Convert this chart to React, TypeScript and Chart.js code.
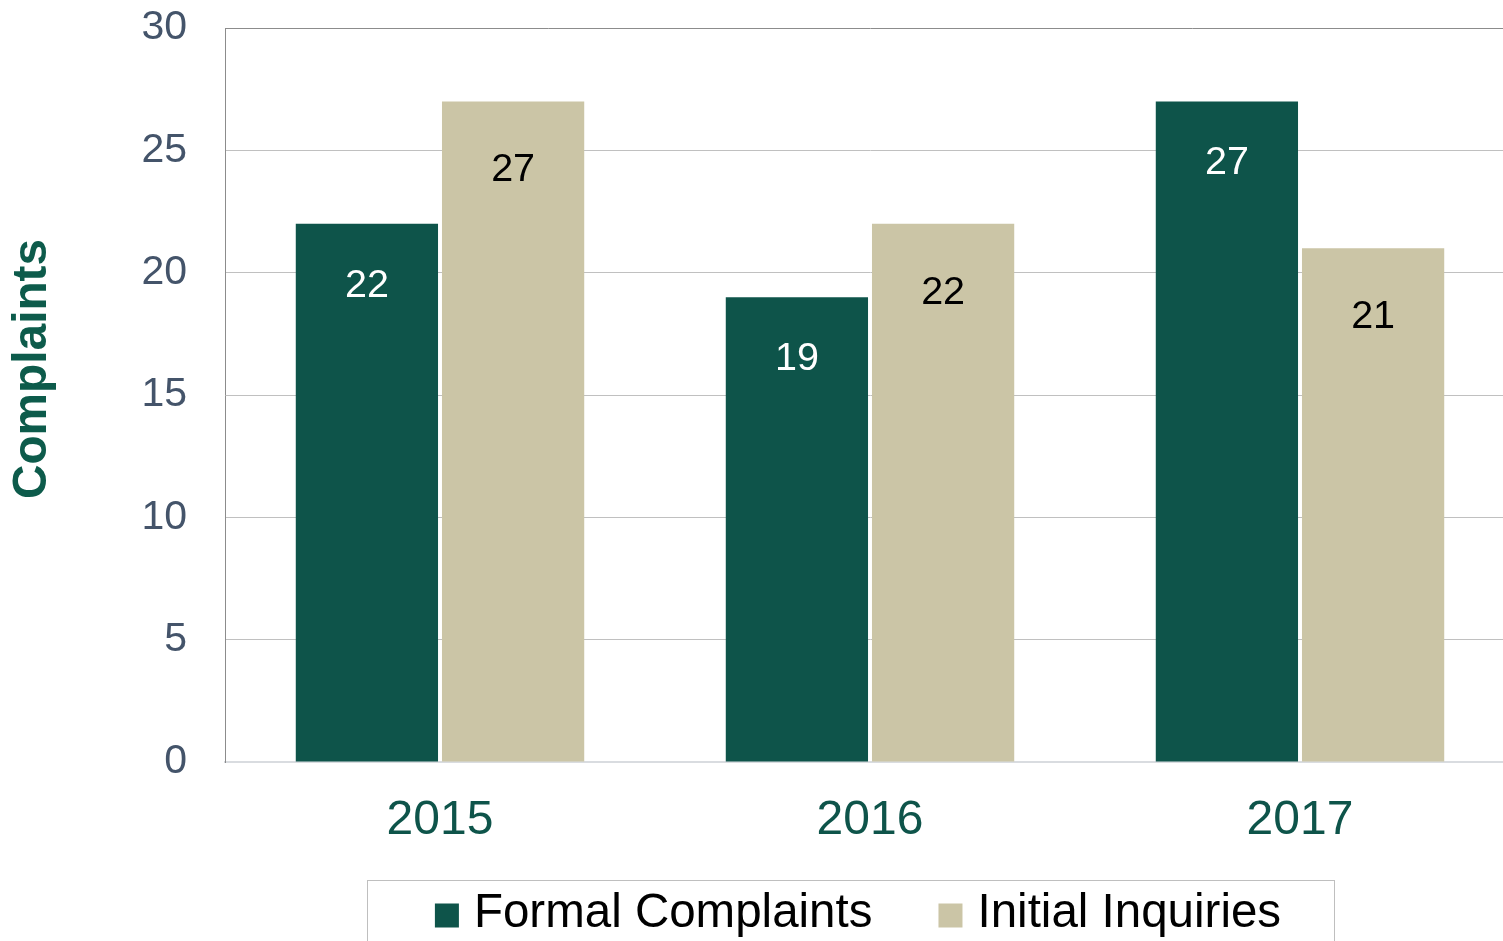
import React, { useEffect, useRef } from 'react';
import { Chart, registerables } from 'chart.js';

Chart.register(...registerables);

const categories = ['2015', '2016', '2017'];
const formalComplaints = [22, 19, 27];
const initialInquiries = [27, 22, 21];
const seriesLabels = ['Formal Complaints', 'Initial Inquiries'];
const axisTitle = 'Complaints';
const yMin = 0;
const yMax = 30;
const yStep = 5;

const FONT = '"Liberation Sans", Arial, Helvetica, sans-serif';
const GREEN = '#0E544A';
const TAN = '#CBC5A6';
const LABEL_COLORS = ['#FFFFFF', '#000000'];
const LABEL_OFFSETS = [62, 69];

const valueLabelsPlugin = {
  id: 'valueLabels',
  afterDatasetsDraw(chart: any) {
    const ctx = chart.ctx;
    ctx.save();
    ctx.font = `39.5px ${FONT}`;
    ctx.textAlign = 'center';
    ctx.textBaseline = 'middle';
    chart.data.datasets.forEach((ds: any, di: number) => {
      const meta = chart.getDatasetMeta(di);
      ctx.fillStyle = LABEL_COLORS[di];
      meta.data.forEach((el: any, i: number) => {
        ctx.fillText(String(ds.data[i]), el.x, el.y + LABEL_OFFSETS[di]);
      });
    });
    ctx.restore();
  },
};

const yTitlePlugin = {
  id: 'yTitle',
  afterDraw(chart: any) {
    const ctx = chart.ctx;
    ctx.save();
    ctx.translate(33, 369);
    ctx.rotate(-Math.PI / 2);
    ctx.font = `bold 47.8px ${FONT}`;
    ctx.fillStyle = '#0D5B4B';
    ctx.textAlign = 'center';
    ctx.textBaseline = 'middle';
    ctx.fillText(axisTitle, 0, 0);
    ctx.restore();
  },
};

const boxedLegendPlugin = {
  id: 'boxedLegend',
  afterDraw(chart: any) {
    const ctx = chart.ctx;
    ctx.save();
    ctx.strokeStyle = '#BFBFBF';
    ctx.lineWidth = 1;
    ctx.strokeRect(367.5, 880.5, 967, 80);
    ctx.font = `47.5px ${FONT}`;
    ctx.textBaseline = 'middle';
    ctx.textAlign = 'left';
    const box = 24;
    const boxGap = 15;
    const itemGap = 66;
    const widths = chart.data.datasets.map((ds: any) => ctx.measureText(ds.label).width);
    const total = widths.reduce((a: number, w: number) => a + box + boxGap + w, 0) + itemGap * (widths.length - 1);
    let x = 858 - total / 2;
    const boxCy = 915.5;
    const textCy = 914;
    chart.data.datasets.forEach((ds: any, i: number) => {
      ctx.fillStyle = ds.backgroundColor;
      ctx.fillRect(x, boxCy - box / 2, box, box);
      ctx.fillStyle = '#000000';
      ctx.fillText(ds.label, x + box + boxGap, textCy);
      x += box + boxGap + widths[i] + itemGap;
    });
    ctx.restore();
  },
};

export default function App() {
  const canvasRef = useRef<HTMLCanvasElement | null>(null);

  useEffect(() => {
    document.body.style.margin = '0';
    const canvas = canvasRef.current;
    if (!canvas) return;
    const chart = new Chart(canvas, {
      type: 'bar',
      data: {
        labels: categories,
        datasets: [
          {
            label: seriesLabels[0],
            data: formalComplaints,
            backgroundColor: GREEN,
            categoryPercentage: 0.68,
            barPercentage: 0.973,
          },
          {
            label: seriesLabels[1],
            data: initialInquiries,
            backgroundColor: TAN,
            categoryPercentage: 0.68,
            barPercentage: 0.973,
          },
        ],
      },
      options: {
        responsive: false,
        animation: false,
        devicePixelRatio: 1,
        layout: { padding: { top: 28, left: 0, right: 0, bottom: 0 } },
        plugins: {
          legend: { display: false },
          tooltip: { enabled: false },
          title: { display: false },
        },
        scales: {
          x: {
            grid: { display: false, drawTicks: false },
            border: { display: true, color: '#D9DCE0', width: 2 },
            ticks: {
              font: { family: FONT, size: 48 },
              color: GREEN,
              padding: 30,
            },
            afterFit(scale: any) {
              scale.height = 179;
              scale.paddingLeft = 0;
              scale.paddingRight = 0;
              scale.paddingTop = 0;
              scale.paddingBottom = 0;
            },
          },
          y: {
            min: yMin,
            max: yMax,
            ticks: {
              stepSize: yStep,
              font: { family: FONT, size: 41 },
              color: '#44546A',
              padding: 38,
            },
            grid: {
              drawTicks: false,
              color: (c: any) => (c.tick && c.tick.value === yMax ? '#8C8C8C' : '#C0C0C0'),
              lineWidth: 1,
            },
            border: { display: true, color: '#8C8C8C', width: 1 },
            afterFit(scale: any) {
              scale.width = 225;
              scale.paddingTop = 0;
              scale.paddingBottom = 0;
              scale.paddingLeft = 0;
              scale.paddingRight = 0;
            },
          },
        },
      },
      plugins: [valueLabelsPlugin, yTitlePlugin, boxedLegendPlugin],
    } as any);
    return () => chart.destroy();
  }, []);

  return (
    <div style={{ position: 'absolute', left: 0, top: 0, width: 1503, height: 941, background: '#fff', overflow: 'hidden' }}>
      <canvas ref={canvasRef} width={1515} height={941} style={{ display: 'block' }} />
    </div>
  );
}
